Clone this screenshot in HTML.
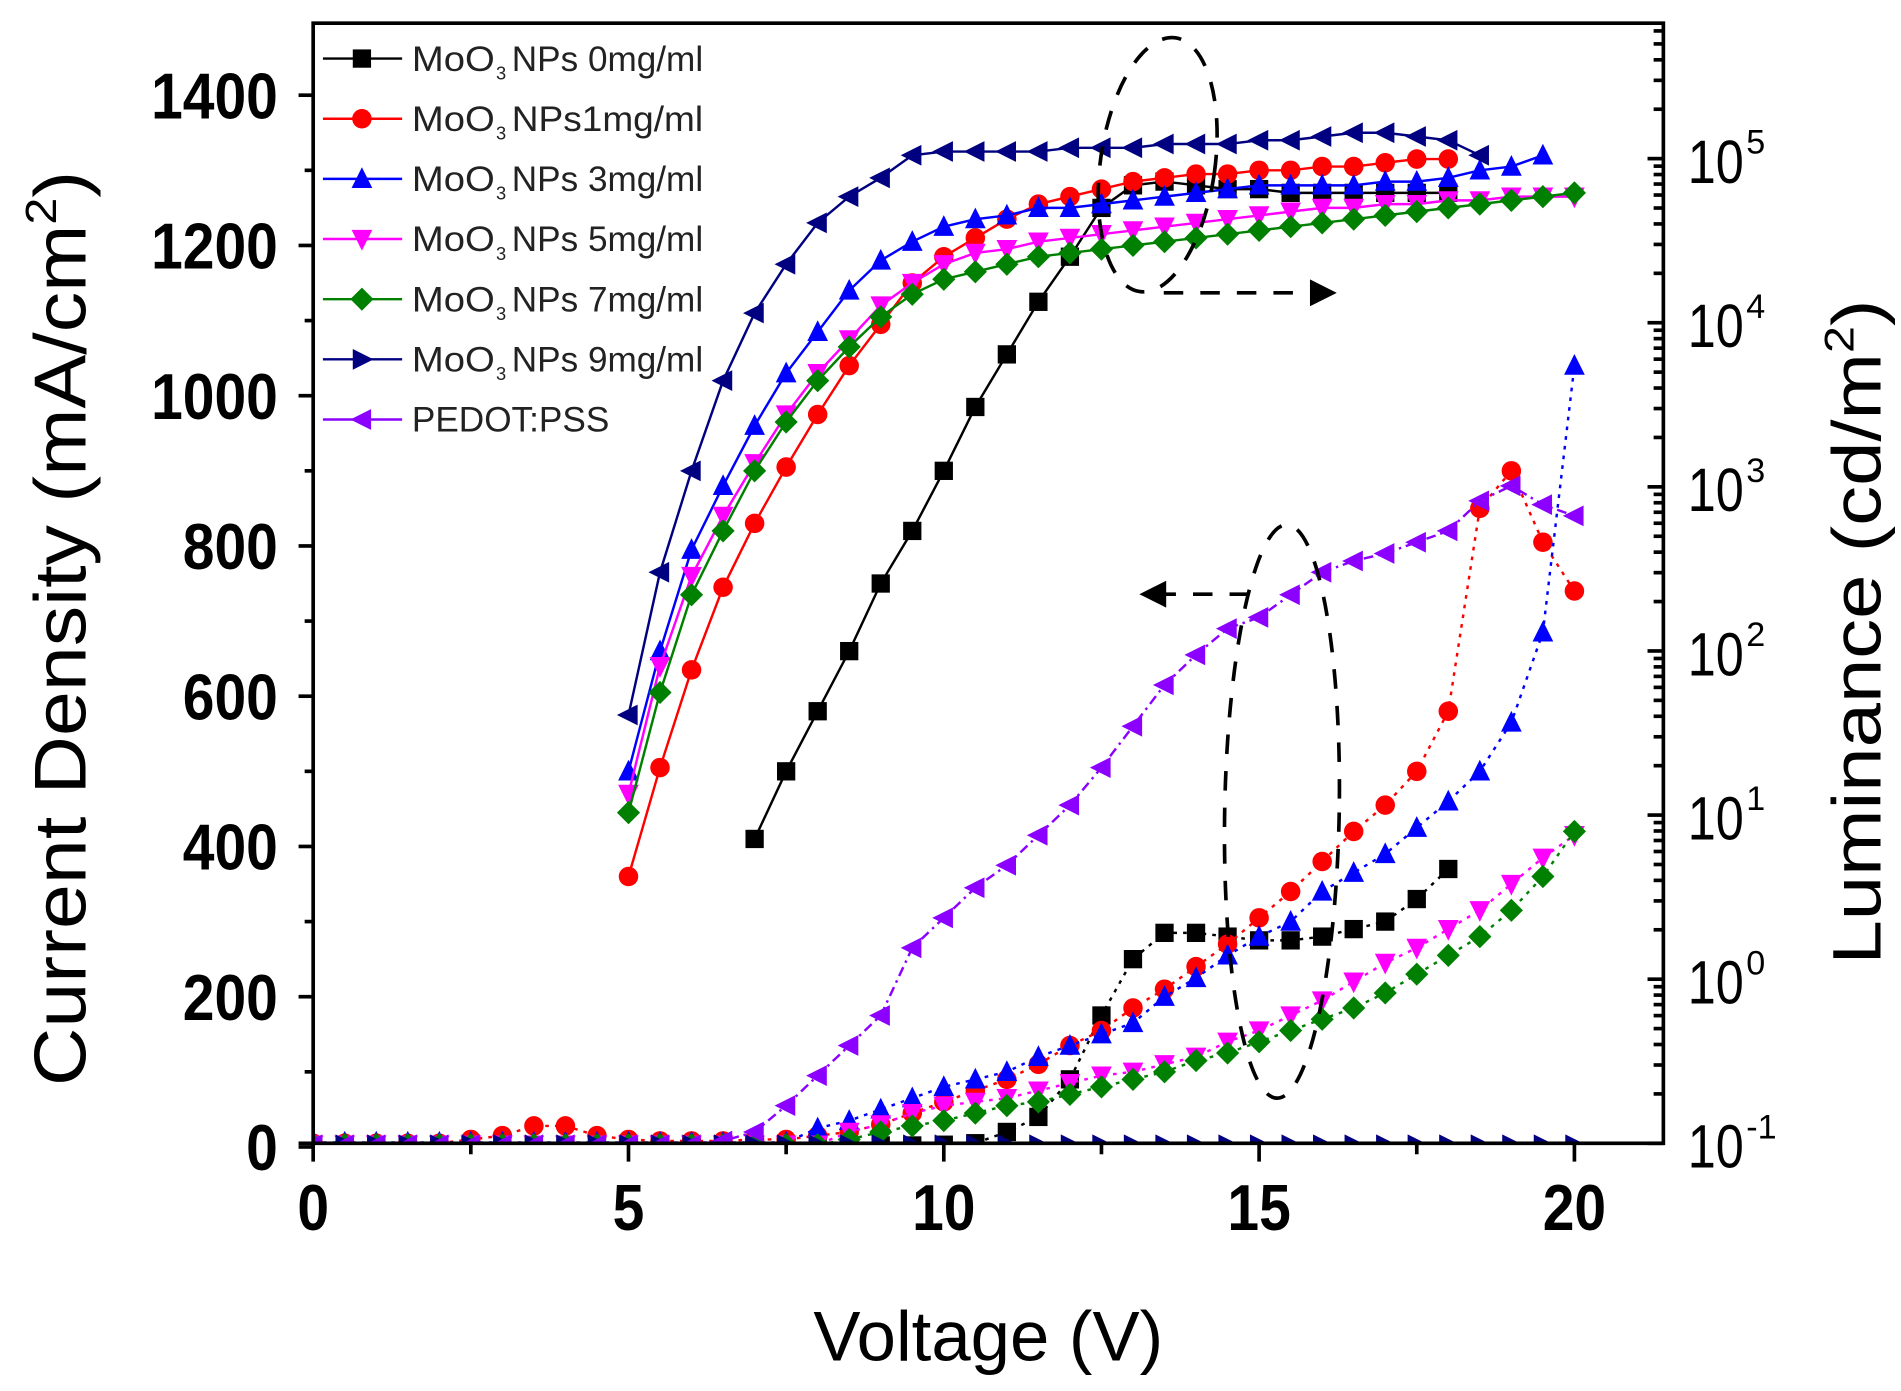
<!DOCTYPE html>
<html><head><meta charset="utf-8"><style>
html,body{margin:0;padding:0;background:#fff;}
svg{display:block;}
text{font-family:"Liberation Sans",Arial,sans-serif;}
</style></head><body>
<svg id="s" width="1901" height="1391" viewBox="0 0 1560 1140" preserveAspectRatio="none" xmlns="http://www.w3.org/2000/svg">
<defs><clipPath id="cp"><rect x="257" y="19" width="1108" height="918"/></clipPath></defs>
<rect width="1560" height="1140" fill="#fff"/>
<g id="data" clip-path="url(#cp)"></g>
<g id="axes"></g>
<g font-weight="bold" font-size="53" text-anchor="end" fill="#000" id="yl"></g>
<g font-weight="bold" font-size="53" text-anchor="middle" fill="#000" id="xl"></g>
<g font-size="50" fill="#000" id="rl"></g>
<text transform="translate(70,515) rotate(-90)" font-size="60" text-anchor="middle" textLength="750" lengthAdjust="spacingAndGlyphs">Current Density (mA/cm<tspan dy="-24" font-size="36">2</tspan><tspan dy="24">)</tspan></text>
<text transform="translate(1543,518) rotate(-90)" font-size="56" text-anchor="middle" textLength="545" lengthAdjust="spacingAndGlyphs">Luminance (cd/m<tspan dy="-22" font-size="34">2</tspan><tspan dy="22">)</tspan></text>
<text x="811" y="1115" font-size="58" text-anchor="middle" textLength="287" lengthAdjust="spacingAndGlyphs">Voltage (V)</text>
<g id="leg"></g>
<g fill="none" stroke="#000" stroke-width="3" stroke-dasharray="16,14">
<ellipse cx="950" cy="135" rx="47" ry="105" transform="rotate(8 950 135)"/>
<path d="M955 240 L1075 240"/>
<ellipse cx="1052" cy="665" rx="47" ry="235" transform="rotate(1 1052 665)"/>
<path d="M1025 487 L955 487"/>
</g>
<path d="M1075 229 L1097 240 L1075 251Z" fill="#000"/>
<path d="M957 476 L935 487 L957 498Z" fill="#000"/>
</svg>
<script>
const NS="http://www.w3.org/2000/svg";
const X=v=>257+v*51.75, Y=v=>940-v*0.6157;
function el(p,t,a){const e=document.createElementNS(NS,t);for(const k in a)e.setAttribute(k,a[k]);p.appendChild(e);return e;}
const D=document.getElementById('data'),A=document.getElementById('axes'),L=document.getElementById('leg');
function mk(p,type,x,y,c,s){s=s||7.5;
 if(type=='sq')el(p,'rect',{x:x-s,y:y-s,width:2*s,height:2*s,fill:c});
 else if(type=='ci')el(p,'circle',{cx:x,cy:y,r:s+0.5,fill:c});
 else if(type=='up')el(p,'path',{d:`M${x} ${y-s-2}L${x+s+1} ${y+s}L${x-s-1} ${y+s}Z`,fill:c});
 else if(type=='dn')el(p,'path',{d:`M${x} ${y+s+2}L${x+s+1} ${y-s}L${x-s-1} ${y-s}Z`,fill:c});
 else if(type=='di')el(p,'path',{d:`M${x} ${y-s-2}L${x+s+2} ${y}L${x} ${y+s+2}L${x-s-2} ${y}Z`,fill:c});
 else if(type=='rt')el(p,'path',{d:`M${x+s+2} ${y}L${x-s} ${y-s-1}L${x-s} ${y+s+1}Z`,fill:c});
 else if(type=='lt')el(p,'path',{d:`M${x-s-2} ${y}L${x+s} ${y-s-1}L${x+s} ${y+s+1}Z`,fill:c});
}
function ser(x0,vals,type,c,dash){
 const pts=vals.map((v,i)=>[X(x0+i*0.5),Y(v)]);
 const a={points:pts.map(p=>p.join(',')).join(' '),fill:'none',stroke:c,'stroke-width':2};
 if(dash)a['stroke-dasharray']=dash;
 el(D,'polyline',a);
 pts.forEach(p=>mk(D,type,p[0],p[1],c));
}
const low=(n,v)=>Array(n).fill(v);
ser(0,[2,2,2,2,2,2,2,2,2,2,2,2,2,2,2,2,2,2,2,2,3,5,20,40,90,175,250,285,285,280,275,275,280,290,300,330,370],'sq','#000','3,5');
ser(0,[5,5,5,5,5,10,15,28,28,15,10,8,8,8,10,10,15,20,30,45,60,75,90,110,135,155,185,210,240,270,305,340,380,420,455,500,580,850,900,805,740],'ci','#f00','3,5');
ser(0,low(16,6).concat([25,35,50,65,80,90,100,120,135,150,165,200,225,255,280,300,340,365,390,425,460,500,565,685,1040]),'up','#00f','3,5');
ser(0,low(17,3).concat([20,30,45,55,60,65,75,85,95,100,110,120,140,155,175,195,220,245,265,290,315,350,385,415]),'dn','#f0f','3,5');
ser(0,low(17,3).concat([10,20,28,35,45,55,60,70,80,90,100,115,125,140,155,170,185,205,230,255,280,315,360,420]),'di','#008000','3,5');
ser(0,low(41,3),'rt','#000080','3,5');
ser(0,low(13,3).concat([8,20,55,95,135,175,265,305,345,375,415,455,505,560,615,655,690,705,735,765,780,790,805,820,860,880,855,840]),'lt','#8b00ff','8,4,2,4');
ser(7,[410,500,580,660,750,820,900,985,1055,1125,1185,1250,1280,1285,1280,1275,1275,1270,1270,1270,1270,1270,1270],'sq','#000');
ser(5,[360,505,635,745,830,905,975,1040,1095,1150,1185,1210,1235,1255,1265,1275,1285,1290,1295,1295,1300,1300,1305,1305,1310,1315,1315],'ci','#f00');
ser(5,[500,660,795,880,960,1030,1085,1140,1180,1205,1225,1235,1240,1250,1250,1255,1260,1265,1270,1275,1280,1280,1280,1280,1285,1285,1290,1300,1305,1320],'up','#00f');
ser(5,[470,640,760,840,910,975,1030,1075,1120,1150,1175,1190,1195,1205,1210,1215,1220,1225,1230,1235,1240,1245,1250,1250,1255,1255,1260,1260,1265,1265,1265],'dn','#f0f');
ser(5,[445,605,735,820,900,965,1020,1065,1105,1135,1155,1165,1175,1185,1190,1195,1200,1205,1210,1215,1220,1225,1230,1235,1240,1245,1250,1255,1260,1265,1270],'di','#008000');
ser(5,[575,765,900,1020,1110,1175,1230,1265,1290,1320,1325,1325,1325,1325,1330,1330,1330,1335,1335,1335,1340,1340,1345,1350,1350,1345,1340,1320],'lt','#000080');
const st={stroke:'#000','stroke-width':3,fill:'none'};
el(A,'rect',Object.assign({x:257,y:19,width:1108,height:918},st));
el(A,'line',Object.assign({x1:245,y1:937,x2:257,y2:937},st));
for(let v=0;v<=20;v+=2.5){const x=X(v);el(A,'line',Object.assign({x1:x,y1:937,x2:x,y2:v%5==0?952:946},st));}
for(let v=0;v<=1400;v+=100){const y=Y(v);el(A,'line',Object.assign({x1:257,y1:y,x2:v%200==0?245:250,y2:y},st));}
const YL=document.getElementById('yl');
for(let v=0;v<=1400;v+=200){const s=String(v);const t=el(YL,'text',{x:228,y:Y(v)+19,textLength:s.length*26,lengthAdjust:'spacingAndGlyphs'});t.textContent=s;}
const XL=document.getElementById('xl');
for(let v=0;v<=20;v+=5){const s=String(v);const t=el(XL,'text',{x:X(v),y:1008,textLength:s.length*26,lengthAdjust:'spacingAndGlyphs'});t.textContent=s;}
const RL=document.getElementById('rl');
for(let d=-1;d<=5;d++){const y0=937-(d+1)*134.5;
 el(A,'line',Object.assign({x1:1365,y1:y0,x2:1352,y2:y0},st));
 const t=el(RL,'text',{x:1385,y:y0+20,textLength:46,lengthAdjust:'spacingAndGlyphs'});t.textContent='10';
 const t2=el(RL,'text',{x:1433,y:y0-4,'font-size':28});t2.textContent=String(d);
 for(let m=2;m<10;m++){const y=y0-Math.log10(m)*134.5;if(y<19)break;el(A,'line',Object.assign({x1:1365,y1:y,x2:1357,y2:y},st));}
}
const lg=[['sq','#000','0mg/ml',' '],['ci','#f00','1mg/ml',''],['up','#00f','3mg/ml',' '],['dn','#f0f','5mg/ml',' '],['di','#008000','7mg/ml',' '],['rt','#000080','9mg/ml',' '],['lt','#8b00ff','','']];
lg.forEach((g,i)=>{const y=48+i*49.3;
 el(L,'line',{x1:265,y1:y,x2:330,y2:y,stroke:g[1],'stroke-width':2});
 mk(L,g[0],297,y,g[1],7.5);
 if(i==6){const t=el(L,'text',{x:338,y:y+10,'font-size':29,fill:'#222',textLength:162,lengthAdjust:'spacingAndGlyphs'});t.textContent='PEDOT:PSS';}
 else{
  const t=el(L,'text',{x:338,y:y+10,'font-size':29,fill:'#222',textLength:68,lengthAdjust:'spacingAndGlyphs'});t.textContent='MoO';
  const s=el(L,'text',{x:407,y:y+17,'font-size':15,fill:'#222'});s.textContent='3';
  const r=el(L,'text',{x:420,y:y+10,'font-size':29,fill:'#222',textLength:157,lengthAdjust:'spacingAndGlyphs'});r.textContent='NPs'+g[3]+g[2];
 }
});
</script>
</body></html>
